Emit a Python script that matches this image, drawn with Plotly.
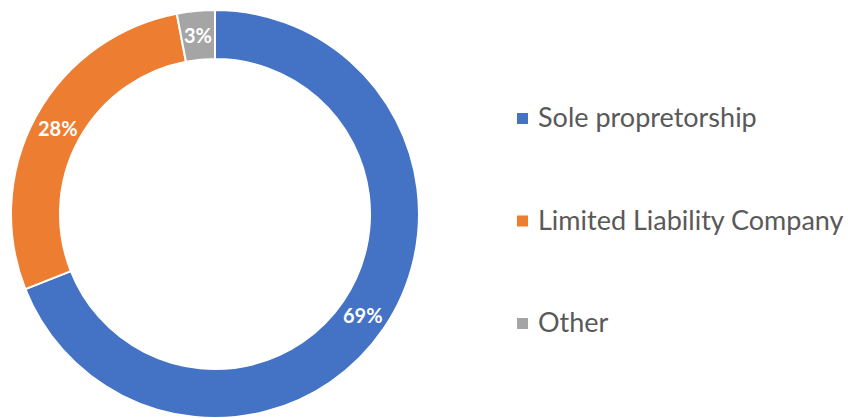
import math
import plotly.graph_objects as go

labels = ["Sole propretorship", "Limited Liability Company", "Other"]
values = [69, 28, 3]
colors = ["#4472C4", "#ED7D31", "#A5A5A5"]

W, H = 848, 418
HOLE = 0.76
dom_x = [10 / W, 420 / W]
dom_y = [0, 0.976]

fig = go.Figure()
fig.add_trace(go.Pie(
    labels=labels, values=values, sort=False, direction="clockwise", rotation=0,
    hole=HOLE,
    marker=dict(colors=colors, line=dict(color="white", width=2)),
    textinfo="none",
    showlegend=False, hoverinfo="label+percent",
    domain=dict(x=dom_x, y=dom_y),
))

# percentage labels at slice centroids (mid angle, mid ring radius), derived from the data
cx_px = (dom_x[0] + dom_x[1]) / 2 * W
cy_px = (dom_y[0] + dom_y[1]) / 2 * H
r_out = min((dom_x[1] - dom_x[0]) * W, (dom_y[1] - dom_y[0]) * H) / 2
r_mid = r_out * (1 + HOLE) / 2
total = sum(values)
annotations = []
cum = 0
for v in values:
    ang = 2 * math.pi * (cum + v / 2) / total
    cum += v
    px = cx_px + r_mid * math.sin(ang)
    py = cy_px + r_mid * math.cos(ang)
    annotations.append(dict(text=f"{round(100 * v / total)}%", xref="paper", yref="paper",
                            x=px / W, y=py / H, xanchor="center", yanchor="middle",
                            showarrow=False,
                            font=dict(family="Lato", size=20, color="white", weight="bold")))

legend_y = [118.5, 221, 323.5]
shapes = []
for lab, col, yy in zip(labels, colors, legend_y):
    shapes.append(dict(type="rect", xref="paper", yref="paper",
                       x0=517 / W, x1=528 / W,
                       y0=1 - (yy + 5.5) / H, y1=1 - (yy - 5.5) / H,
                       fillcolor=col, line=dict(width=0)))
    annotations.append(dict(text=lab, xref="paper", yref="paper",
                            x=536 / W, y=1 - (yy - 2) / H, xanchor="left", yanchor="middle",
                            showarrow=False,
                            font=dict(family="Lato", size=27, color="#595959")))

fig.update_layout(
    width=W, height=H, margin=dict(l=0, r=0, t=0, b=0),
    paper_bgcolor="white", plot_bgcolor="white",
    shapes=shapes, annotations=annotations,
)

fig.write_html("out.html")
